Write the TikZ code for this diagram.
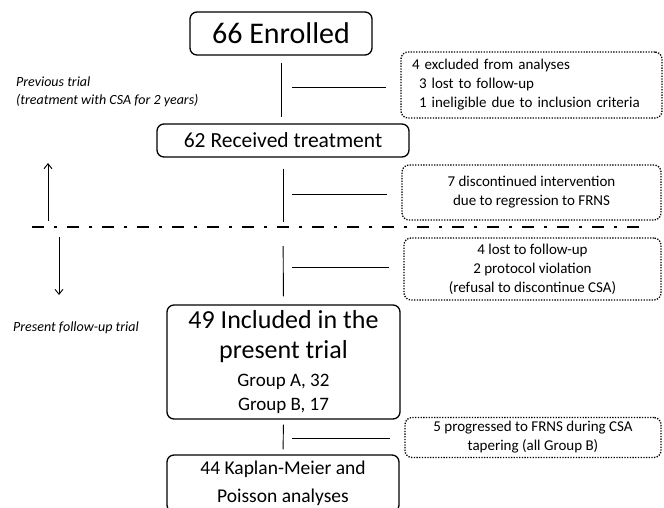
\documentclass[tikz,border=0pt]{standalone}
\usepackage{fontspec}
\setmainfont{Carlito}
\usetikzlibrary{positioning,arrows.meta}

\begin{document}
\begin{tikzpicture}[x=1pt, y=-1pt,
		link/.style={line width=0.9pt},
		stagebox/.style={draw, line width=1.3pt, rounded corners=7pt, inner sep=0pt, align=center},
		lossbox/.style={draw, line width=1.3pt, dash pattern=on 1.3pt off 1.4pt, rounded corners=7pt, inner sep=0pt, align=center, font=\fontsize{15}{19}\selectfont},
		phase/.style={anchor=west, inner sep=0pt, align=left, font=\itshape\fontsize{14}{18}\selectfont}]
		\useasboundingbox (0,0) rectangle (664,507);
		\begin{scope}[every node/.style={stagebox}]
			\node (enrolled) at (281,33.5) [minimum width=182pt, minimum height=43pt, font=\fontsize{30}{34}\selectfont] {66 Enrolled};
			\node (received) at (283,140.5) [minimum width=252pt, minimum height=33pt, font=\fontsize{21.5}{25}\selectfont] {62 Received treatment};
			\node (included) at (283.5,362) [minimum width=233pt, minimum height=114pt, font=\fontsize{26}{30}\selectfont] {49 Included in the\\present trial\\[-2pt]{\fontsize{19}{23}\selectfont Group A, 32}\\[-6pt]{\fontsize{19}{23}\selectfont Group B, 17}};
			\node (analyses) at (283,483.5) [minimum width=232pt, minimum height=57pt, font=\fontsize{19.5}{28}\selectfont] {44 Kaplan-Meier and\\Poisson analyses};
		\end{scope}
		\begin{scope}[every node/.style={lossbox}]
			\node (excl1) at (531.5,85) [text width=239pt, inner xsep=11pt, minimum height=66pt, align=left] {4 excluded from analyses\\\hspace*{7pt}3 lost to follow-up\\\hspace*{7pt}1 ineligible due to inclusion criteria};
			\node (excl2) at (531.5,192.5) [minimum width=259pt, minimum height=55pt] {7 discontinued intervention\\due to regression to FRNS};
			\node (excl3) at (532.5,269) [minimum width=257pt, minimum height=62pt] {4 lost to follow-up\\2 protocol violation\\(refusal to discontinue CSA)};
			\node (excl4) at (533,437.5) [minimum width=256pt, minimum height=40pt] {5 progressed to FRNS during CSA\\tapering (all Group B)};
		\end{scope}
		\node[phase] (previous) at (16,92) {Previous trial\\(treatment with CSA for 2 years)};
		\node[phase] (present) at (13,328) {Present follow-up trial};
		\coordinate (upfoot) at (48,221);
		\coordinate (uphead) at (48,163);
		\coordinate (downfoot) at (59,237);
		\coordinate (downhead) at (59,295);
		\coordinate (cutL) at (32,227);
		\coordinate (cutR) at (640,227);
		\coordinate (s1) at (292,87);
		\coordinate (s2) at (292,194);
		\coordinate (s3) at (292,267);
		\coordinate (s4) at (292,438);
		\begin{scope}
			\draw[link, shorten <=7pt, shorten >=6pt] (enrolled.south) -- (enrolled.south |- received.north);
			\draw[link, shorten <=11pt, shorten >=5pt] (received.south) -- (received.south |- cutL);
			\draw[link, shorten <=19pt, shorten >=8pt] (received.south |- cutL) -- (included.north);
			\draw[link, shorten <=5pt, shorten >=5pt] (included.south) -- (analyses.north);
			\draw[link, shorten >=14pt] (s1) -- (s1 -| excl1.west);
			\draw[link, shorten >=14pt] (s2) -- (s2 -| excl2.west);
			\draw[link, shorten >=14pt] (s3) -- (s3 -| excl3.west);
			\draw[link, shorten >=14pt] (s4) -- (s4 -| excl4.west);
			\draw[line width=2.6pt, dash pattern=on 12pt off 10pt on 3pt off 10pt] (cutL) -- (cutR);
			\draw[link, -{Straight Barb[length=5pt, width=8pt]}] (upfoot) -- (uphead);
			\draw[link, -{Straight Barb[length=5pt, width=8pt]}] (downfoot) -- (downhead);
		\end{scope}
	\end{tikzpicture}
\end{document}
